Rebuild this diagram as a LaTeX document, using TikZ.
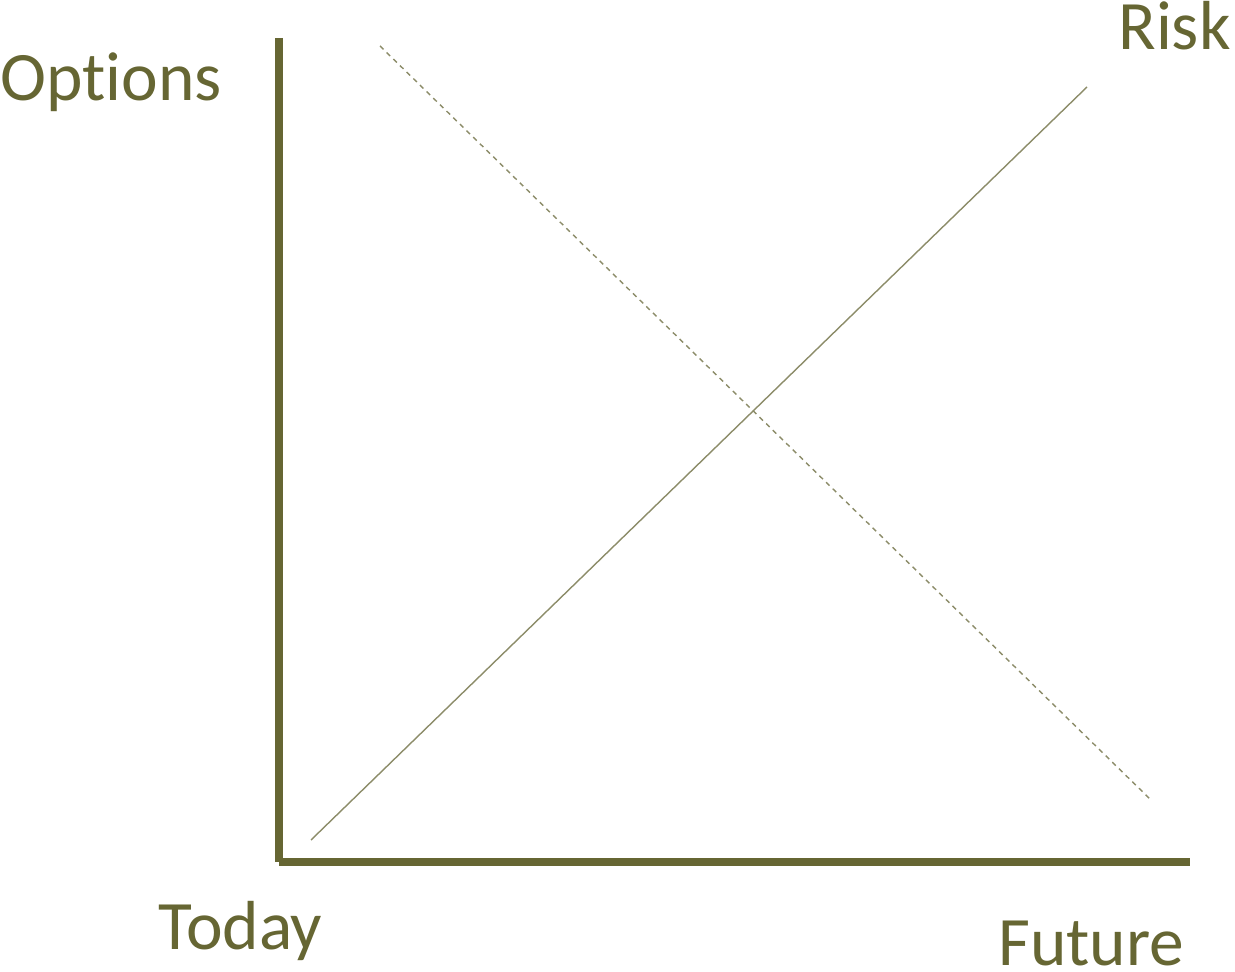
\documentclass[tikz,border=0pt]{standalone}
\usepackage{fontspec}
\setmainfont{Carlito}[Ligatures=NoCommon]
\definecolor{olive}{RGB}{102,102,51}
\definecolor{lightolive}{RGB}{140,140,105}

\begin{document}
\begin{tikzpicture}[x=0.02cm, y=0.02cm]
\tikzstyle{every node}+=[inner sep=0pt, text=olive, font=\fontsize{39.5}{47}\selectfont]
\useasboundingbox (0,0) rectangle (1235,-972);
% axes
\draw [olive, line width=0.16cm] (279,-38) -- (279,-862);
\draw [olive, line width=0.16cm] (279,-862) -- (1190,-862);
% options and risk
\draw [lightolive, line width=0.8pt, dash pattern=on 2.8pt off 2.5pt] (380,-46) -- (1151,-800);
\draw [lightolive, line width=0.8pt] (311,-840) -- (1087,-87);
% labels
\node (options) [anchor=base west] at (0,-101) {Options};
\node (risk) [anchor=base west] at (1118,-50) {Risk};
\node (today) [anchor=base west] at (158,-950) {Today};
\node (future) [anchor=base west] at (998,-966) {Future};
\end{tikzpicture}
\end{document}
